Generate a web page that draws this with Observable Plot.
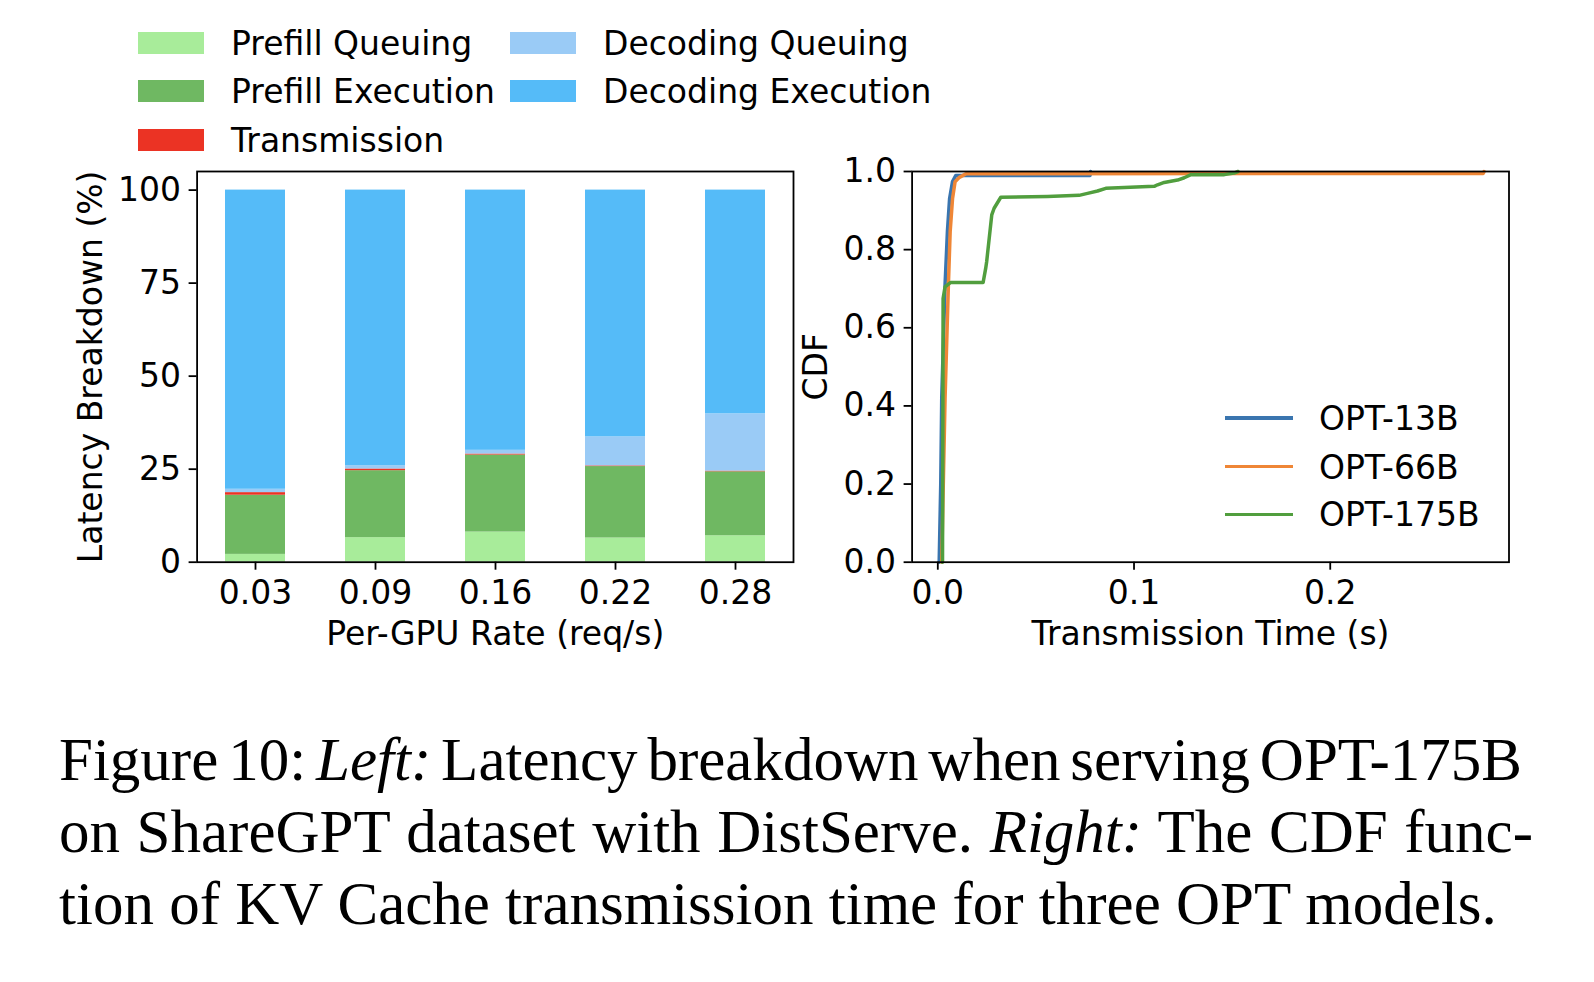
<!DOCTYPE html>
<html>
<head>
<meta charset="utf-8">
<script src="https://cdn.jsdelivr.net/npm/d3@7"></script>
<script src="https://cdn.jsdelivr.net/npm/@observablehq/plot@0.6"></script>
<style>
  html, body { margin: 0; padding: 0; background: #fff; }
  #fig { position: relative; width: 1594px; height: 982px; overflow: hidden; background: #fff; font-family: "DejaVu Sans", sans-serif; color: #000; }
  .layer { position: absolute; left: 0; top: 0; }
  .patch { position: absolute; }
  .ltext { position: absolute; font-size: 33px; line-height: 33px; white-space: nowrap; }
  .lline { position: absolute; height: 3.5px; }
  #caption { position: absolute; left: 59px; top: 724px; font-family: "Liberation Serif", "Times New Roman", serif; font-size: 61px; line-height: 72px; white-space: nowrap; color: #000; }
  #caption .cl { display: block; white-space: nowrap; }
  #caption .cl span.inner { display: inline-block; white-space: nowrap; }
</style>
</head>
<body>
<div id="fig">
  <div id="left" class="layer"></div>
  <div id="right" class="layer"></div>
  <div id="legendLeft" class="layer"></div>
  <div id="legendRight" class="layer"></div>
  <div id="caption">
    <div class="cl"><span class="inner" data-target="1463">Figure 10: <i>Left:</i> Latency breakdown when serving OPT-175B</span></div>
    <div class="cl"><span class="inner" data-target="1474">on ShareGPT dataset with DistServe. <i>Right:</i> The CDF func-</span></div>
    <div class="cl"><span class="inner">tion of KV Cache transmission time for three OPT models.</span></div>
  </div>
</div>
<script>
// ---------- Left panel data: latency breakdown (%) ----------
const rates = ["0.03", "0.09", "0.16", "0.22", "0.28"];
const seriesNames = ["Prefill Queuing", "Prefill Execution", "Transmission", "Decoding Queuing", "Decoding Execution"];
const seriesColors = ["#a8ec9a", "#6fb862", "#eb3324", "#9acbf6", "#55bbf8"];
const prefillQueuing    = [2.1, 6.6, 8.1, 6.5, 7.1];
const prefillExecution  = [15.9, 18.0, 20.7, 19.2, 17.2];
const transmission      = [0.7, 0.45, 0.27, 0.18, 0.18];
const decodingQueuing   = [0.9, 0.9, 1.0, 7.8, 15.4];
const decodingExecution = [80.4, 74.05, 69.93, 66.32, 60.12];
const yTicksLeft = [0, 25, 50, 75, 100];

// ---------- Right panel data: CDF of KV cache transmission time ----------
const models = ["OPT-13B", "OPT-66B", "OPT-175B"];
const modelColors = ["#3a75af", "#ef8636", "#519e3e"];
const opt13bTime = [0.0007, 0.0015, 0.0020, 0.0037, 0.0049, 0.0060, 0.0075, 0.0092, 0.0776, 0.0778];
const opt13bCdf  = [0.0, 0.20, 0.42, 0.71, 0.846, 0.93, 0.974, 0.990, 0.990, 1.0];
const opt66bTime = [0.0020, 0.0028, 0.0037, 0.0054, 0.0063, 0.0075, 0.0088, 0.0110, 0.0143, 0.2780, 0.2784];
const opt66bCdf  = [0.0, 0.20, 0.42, 0.71, 0.846, 0.93, 0.974, 0.985, 0.994, 0.995, 1.0];
const opt175bTime = [0.0024, 0.0026, 0.0027, 0.0037, 0.0066, 0.0231, 0.0244, 0.0249, 0.0275, 0.0287, 0.0321, 0.0559, 0.0720, 0.0763, 0.0814, 0.0856, 0.0950, 0.1103, 0.1120, 0.1154, 0.1222, 0.1256, 0.1290, 0.1460, 0.1510, 0.1530];
const opt175bCdf  = [0.0, 0.40, 0.675, 0.705, 0.716, 0.716, 0.752, 0.769, 0.889, 0.906, 0.934, 0.936, 0.939, 0.944, 0.950, 0.957, 0.959, 0.962, 0.966, 0.972, 0.978, 0.984, 0.992, 0.992, 0.996, 1.0];
const xTicksRight = [0, 0.1, 0.2];
const yTicksRight = [0, 0.2, 0.4, 0.6, 0.8, 1.0];

// ---------- Build tables ----------
const breakdown = [prefillQueuing, prefillExecution, transmission, decodingQueuing, decodingExecution];
const barRows = [];
seriesNames.forEach((s, i) => rates.forEach((r, j) => barRows.push({rate: r, series: s, value: breakdown[i][j]})));

const cdfTimes = [opt13bTime, opt66bTime, opt175bTime];
const cdfVals = [opt13bCdf, opt66bCdf, opt175bCdf];
const cdfRows = [];
models.forEach((m, i) => cdfTimes[i].forEach((t, j) => cdfRows.push({model: m, t, p: cdfVals[i][j]})));

const W = 1594, H = 700, FS = 33;
const common = {
  width: W, height: H, marginTop: 171, marginBottom: H - 561.7,
  style: {fontFamily: "DejaVu Sans", fontSize: FS + "px", color: "black", background: "transparent", overflow: "visible"}
};

const left = Plot.plot({
  ...common,
  marginLeft: 196.6, marginRight: W - 793,
  x: {type: "band", domain: rates, paddingInner: 0.5, paddingOuter: 0.227, label: null},
  y: {domain: [0, 105], label: null},
  color: {domain: seriesNames, range: seriesColors},
  marks: [
    Plot.barY(barRows, {x: "rate", y: "value", fill: "series"}),
    Plot.frame({stroke: "black", strokeWidth: 1.8}),
    Plot.axisX({tickSize: 8, tickPadding: 10, fontSize: FS, strokeWidth: 1.8, label: null}),
    Plot.axisY({ticks: yTicksLeft, tickSize: 8, tickPadding: 8, fontSize: FS, strokeWidth: 1.8, label: null}),
    Plot.text(["Per-GPU Rate (req/s)"], {text: d => d, frameAnchor: "bottom", textAnchor: "middle", dy: 83, fontSize: FS}),
    Plot.text(["Latency Breakdown (%)"], {text: d => d, frameAnchor: "left", textAnchor: "middle", rotate: -90, dx: -106, fontSize: FS})
  ]
});
document.getElementById("left").appendChild(left);

const right = Plot.plot({
  ...common,
  marginLeft: 911.6, marginRight: W - 1508.5,
  x: {domain: [-0.0131, 0.2911], label: null},
  y: {domain: [0, 1], label: null},
  color: {domain: models, range: modelColors},
  marks: [
    Plot.line(cdfRows, {x: "t", y: "p", stroke: "model", z: "model", strokeWidth: 3.5, strokeLinejoin: "round"}),
    Plot.frame({stroke: "black", strokeWidth: 1.8}),
    Plot.axisX({ticks: xTicksRight, tickFormat: d3.format(".1f"), tickSize: 8, tickPadding: 10, fontSize: FS, strokeWidth: 1.8, label: null}),
    Plot.axisY({ticks: yTicksRight, tickFormat: d3.format(".1f"), tickSize: 8, tickPadding: 8, fontSize: FS, strokeWidth: 1.8, label: null}),
    Plot.text(["Transmission Time (s)"], {text: d => d, frameAnchor: "bottom", textAnchor: "middle", dy: 83, fontSize: FS}),
    Plot.text(["CDF"], {text: d => d, frameAnchor: "left", textAnchor: "middle", rotate: -90, dx: -96, fontSize: FS})
  ]
});
document.getElementById("right").appendChild(right);

// ---------- Legends (HTML) ----------
const legL = document.getElementById("legendLeft");
const legendPos = [[138, 43], [138, 91.3], [138, 139.5], [510, 43], [510, 91.3]];
seriesNames.forEach((name, k) => {
  const [lx, cy] = legendPos[k];
  const p = document.createElement("div");
  p.className = "patch";
  Object.assign(p.style, {left: lx + "px", top: (cy - 11) + "px", width: "66px", height: "22px", background: seriesColors[k]});
  legL.appendChild(p);
  const t = document.createElement("div");
  t.className = "ltext";
  t.textContent = name;
  Object.assign(t.style, {left: (lx + 93) + "px", top: (cy - 16) + "px"});
  legL.appendChild(t);
});

const legR = document.getElementById("legendRight");
const rightRows = [418, 466.6, 514.4];
models.forEach((m, i) => {
  const l = document.createElement("div");
  l.className = "lline";
  Object.assign(l.style, {left: "1225px", top: (rightRows[i] - 1.75) + "px", width: "68px", background: modelColors[i]});
  legR.appendChild(l);
  const t = document.createElement("div");
  t.className = "ltext";
  t.textContent = m;
  Object.assign(t.style, {left: "1319px", top: (rightRows[i] - 16) + "px"});
  legR.appendChild(t);
});

// ---------- Justify caption lines to the reference widths ----------
document.querySelectorAll("#caption span.inner[data-target]").forEach(el => {
  const target = +el.dataset.target;
  const natural = el.getBoundingClientRect().width;
  const spaces = (el.textContent.match(/ /g) || []).length;
  if (spaces > 0) el.style.wordSpacing = ((target - natural) / spaces) + "px";
});
</script>
</body>
</html>
